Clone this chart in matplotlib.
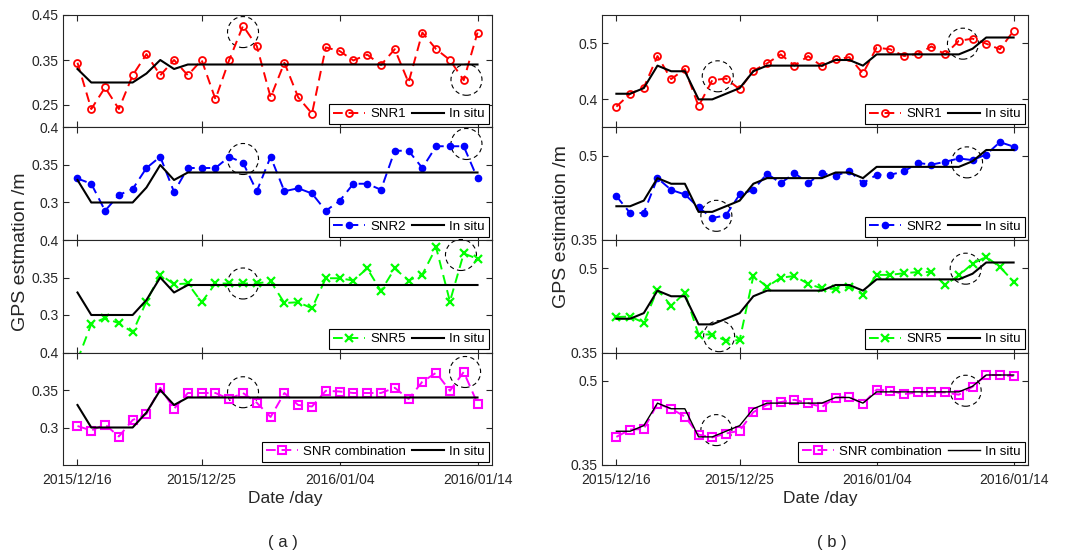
import numpy as np
import matplotlib
matplotlib.use('Agg')
import matplotlib.pyplot as plt
import matplotlib.transforms as mtransforms
from matplotlib.patches import Circle

plt.rcParams['font.family'] = ['Liberation Sans', 'DejaVu Sans']

# ---- data ----
days = np.arange(30)
xtick_pos = [0, 9, 19, 29]
xtick_lab = ['2015/12/16', '2015/12/25', '2016/01/04', '2016/01/14']

insitu_a = [0.33, 0.30, 0.30, 0.30, 0.30, 0.32, 0.35, 0.33, 0.34, 0.34,
            0.34, 0.34, 0.34, 0.34, 0.34, 0.34, 0.34, 0.34, 0.34, 0.34,
            0.34, 0.34, 0.34, 0.34, 0.34, 0.34, 0.34, 0.34, 0.34, 0.34]
snr1_a = [0.344, 0.241, 0.289, 0.241, 0.316, 0.363, 0.316, 0.350, 0.316, 0.350,
          0.263, 0.350, 0.426, 0.381, 0.267, 0.344, 0.267, 0.231, 0.378, 0.370,
          0.349, 0.362, 0.339, 0.374, 0.300, 0.411, 0.374, 0.350, 0.305, 0.411]
snr2_a = [0.332, 0.325, 0.289, 0.310, 0.318, 0.346, 0.361, 0.314, 0.346, 0.346,
          0.346, 0.361, 0.353, 0.315, 0.361, 0.315, 0.319, 0.312, 0.289, 0.302,
          0.325, 0.325, 0.317, 0.369, 0.369, 0.346, 0.375, 0.375, 0.375, 0.332]
snr5_a = [0.240, 0.288, 0.296, 0.289, 0.277, 0.318, 0.354, 0.341, 0.342, 0.317,
          0.342, 0.342, 0.342, 0.342, 0.345, 0.316, 0.317, 0.309, 0.349, 0.349,
          0.346, 0.362, 0.332, 0.362, 0.346, 0.354, 0.390, 0.318, 0.382, 0.375]
comb_a = [0.302, 0.296, 0.304, 0.288, 0.310, 0.318, 0.353, 0.325, 0.346, 0.346,
          0.346, 0.338, 0.346, 0.333, 0.314, 0.346, 0.330, 0.328, 0.349, 0.348,
          0.346, 0.346, 0.346, 0.353, 0.338, 0.361, 0.373, 0.349, 0.374, 0.332]

insitu_b = [0.41, 0.41, 0.42, 0.46, 0.45, 0.45, 0.40, 0.40, 0.41, 0.42,
            0.45, 0.46, 0.46, 0.46, 0.46, 0.46, 0.47, 0.47, 0.46, 0.48,
            0.48, 0.48, 0.48, 0.48, 0.48, 0.48, 0.49, 0.51, 0.51, 0.51]
snr1_b = [0.387, 0.410, 0.421, 0.477, 0.436, 0.454, 0.388, 0.434, 0.437, 0.418,
          0.451, 0.464, 0.480, 0.460, 0.477, 0.459, 0.471, 0.475, 0.446, 0.492,
          0.489, 0.477, 0.481, 0.494, 0.480, 0.504, 0.508, 0.499, 0.489, 0.522]
snr2_b = [0.428, 0.398, 0.398, 0.460, 0.439, 0.431, 0.408, 0.389, 0.394, 0.431,
          0.439, 0.468, 0.451, 0.469, 0.451, 0.469, 0.464, 0.473, 0.451, 0.466,
          0.466, 0.472, 0.487, 0.484, 0.489, 0.495, 0.492, 0.502, 0.524, 0.516]
snr5_b = [0.413, 0.414, 0.403, 0.462, 0.433, 0.456, 0.382, 0.382, 0.371, 0.372,
          0.486, 0.467, 0.483, 0.486, 0.472, 0.464, 0.463, 0.467, 0.453, 0.488,
          0.488, 0.491, 0.493, 0.493, 0.470, 0.487, 0.508, 0.520, 0.502, 0.476]
comb_b = [0.400, 0.413, 0.414, 0.459, 0.450, 0.436, 0.404, 0.399, 0.406, 0.411,
          0.444, 0.457, 0.462, 0.466, 0.460, 0.453, 0.470, 0.471, 0.459, 0.484,
          0.482, 0.476, 0.479, 0.479, 0.479, 0.475, 0.489, 0.510, 0.510, 0.508]

# dashed circles (day, value) per panel
circ_a = [[(12.0, 0.412), (28.2, 0.306)],
          [(12.0, 0.358), (28.2, 0.378)],
          [(12.0, 0.342), (27.8, 0.380)],
          [(12.0, 0.347), (28.1, 0.374)]]
circ_b = [[(7.4, 0.441), (25.3, 0.499)],
          [(7.3, 0.393), (25.6, 0.488)],
          [(7.5, 0.379), (25.5, 0.499)],
          [(7.3, 0.412), (25.5, 0.482)]]

labels = ['SNR1', 'SNR2', 'SNR5', 'SNR combination']
styles = [dict(color='red', marker='o', mfc='none', ms=5, mew=1.3),
          dict(color='blue', marker='o', mfc='blue', ms=4.5, mew=1),
          dict(color='#00ff00', marker='x', ms=6, mew=1.6),
          dict(color='magenta', marker='s', mfc='none', ms=6, mew=1.5)]

ylim_a = [(0.2, 0.45), (0.25, 0.4), (0.25, 0.4), (0.25, 0.4)]
yt_a = [[0.25, 0.35, 0.45], [0.3, 0.35, 0.4], [0.3, 0.35, 0.4], [0.3, 0.35, 0.4]]
ylim_b = [(0.35, 0.55)] * 4
yt_b = [[0.4, 0.5], [0.35, 0.5], [0.35, 0.5], [0.35, 0.5]]

W, H = 1084, 554
fig = plt.figure(figsize=(W / 100, H / 100), dpi=100)
gray = '#262626'


def panel(x0, x1, top, bot, series, insitu, ylim, yt, circles, label, last, lw_in):
    ax = fig.add_axes([x0 / W, 1 - bot / H, (x1 - x0) / W, (bot - top) / H])
    ax.plot(days, series, linestyle=(0, (5, 3)), lw=1.4, label=label, **styles[labels.index(label)])
    ax.plot(days, insitu, color='black', lw=lw_in, label='In situ')
    ax.set_xlim(-1.05, 30.05)
    ax.set_ylim(*ylim)
    ax.set_yticks(yt)
    ax.set_yticklabels(['%g' % v for v in yt])
    ax.set_xticks(xtick_pos)
    if last:
        ax.set_xticklabels(xtick_lab)
    else:
        ax.set_xticklabels([])
    ax.tick_params(direction='in', top=True, right=True, length=4, width=0.8,
                   colors=gray, labelsize=10, pad=3)
    ax.tick_params(axis='x', pad=6)
    for s in ax.spines.values():
        s.set_color(gray)
        s.set_linewidth(0.8)
    for (cx, cy) in circles:
        tr = fig.dpi_scale_trans + mtransforms.ScaledTranslation(cx, cy, ax.transData)
        ax.add_patch(Circle((0, 0), 0.155, transform=tr, fill=False, ec='black',
                            lw=0.8, ls=(0, (4, 3)), clip_on=False))
    leg = ax.legend(loc='lower right', ncol=2, fontsize=9.5, frameon=True, fancybox=False,
                    edgecolor='black', framealpha=1, handlelength=2.4, handletextpad=0.4,
                    columnspacing=0.5, borderpad=0.3, borderaxespad=0.25)
    leg.get_frame().set_linewidth(0.8)
    return ax


series_a = [snr1_a, snr2_a, snr5_a, comb_a]
series_b = [snr1_b, snr2_b, snr5_b, comb_b]
edges = [15, 127.5, 240, 352.5, 465]
for i in range(4):
    panel(63, 492, edges[i], edges[i + 1], series_a[i], insitu_a, ylim_a[i], yt_a[i],
          circ_a[i], labels[i], i == 3, 1.5)
    panel(602, 1028, edges[i], edges[i + 1], series_b[i], insitu_b, ylim_b[i], yt_b[i],
          circ_b[i], labels[i], i == 3, 1.5 if i < 3 else 1.0)

fig.text(21 / W, 1 - 252 / H, 'GPS estmation /m', rotation=90, ha='center', va='center',
         fontsize=14, color=gray)
fig.text(561 / W, 1 - 227 / H, 'GPS estimation /m', rotation=90, ha='center', va='center',
         fontsize=14, color=gray)
fig.text(285 / W, 1 - 499 / H, 'Date /day', ha='center', va='center', fontsize=12.5, color=gray)
fig.text(820 / W, 1 - 499 / H, 'Date /day', ha='center', va='center', fontsize=12.5, color=gray)
fig.text(283 / W, 1 - 543 / H, '( a )', ha='center', va='center', fontsize=12, color=gray)
fig.text(832 / W, 1 - 543 / H, '( b )', ha='center', va='center', fontsize=12, color=gray)

fig.savefig('out.png', dpi=100)
